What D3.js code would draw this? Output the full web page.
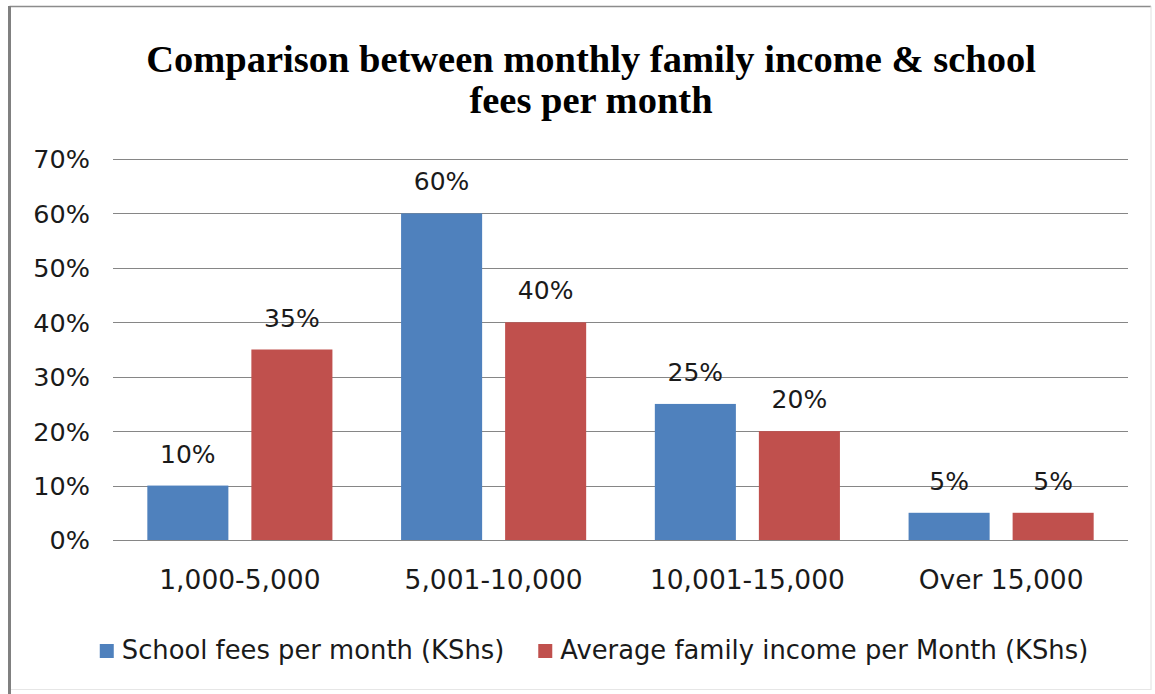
<!DOCTYPE html>
<html>
<head>
<meta charset="utf-8">
<script src="https://cdn.jsdelivr.net/npm/d3@7"></script>
<style>
  html, body { margin: 0; padding: 0; background: #ffffff; }
  svg { display: block; }
</style>
</head>
<body>
<svg id="chart" width="1155" height="694"></svg>
<script>
// ---- data ----
const categories = ["1,000-5,000", "5,001-10,000", "10,001-15,000", "Over 15,000"];
const seriesNames = ["School fees per month (KShs)", "Average family income per Month (KShs)"];
const schoolFees = [0.10, 0.60, 0.25, 0.05];
const familyIncome = [0.35, 0.40, 0.20, 0.05];
const yTicks = [0, 0.1, 0.2, 0.3, 0.4, 0.5, 0.6, 0.7];
const titleLines = ["Comparison between monthly family income & school", "fees per month"];
const colors = ["#4F81BD", "#C0504D"];

const seriesValues = [schoolFees, familyIncome];

(function () {
const svg = d3.select("#chart");
const W = 1155, H = 694;

// outer frame
svg.append("rect").attr("x", 0).attr("y", 0).attr("width", W).attr("height", H).attr("fill", "#fff");
svg.append("line").attr("x1", 9.5).attr("x2", 1151).attr("y1", 6.5).attr("y2", 6.5).attr("stroke", "#8c8c8c").attr("stroke-width", 1.5);
svg.append("line").attr("x1", 1151).attr("x2", 1151).attr("y1", 6).attr("y2", 690).attr("stroke", "#e0e0e0").attr("stroke-width", 1);
svg.append("line").attr("x1", 9.5).attr("x2", 1151).attr("y1", 689.5).attr("y2", 689.5).attr("stroke", "#e6e6e6").attr("stroke-width", 1);
svg.append("line").attr("x1", 9.5).attr("x2", 9.5).attr("y1", 6).attr("y2", 694).attr("stroke", "#808080").attr("stroke-width", 3);

const pLeft = 113, pRight = 1128, pTop = 159, pBottom = 540;

const y = d3.scaleLinear().domain([0, 0.7]).range([pBottom, pTop]);
const x0 = d3.scaleBand().domain(categories).range([pLeft, pRight]).padding(0);
const x1 = d3.scaleBand().domain([0, 1]).range([0, x0.bandwidth()]).paddingInner(0.221).paddingOuter(0.33);

const labelFont = "'DejaVu Sans', sans-serif";
const textColor = "#1a1a1a";

// gridlines
svg.append("g")
  .selectAll("line")
  .data(yTicks)
  .join("line")
  .attr("x1", pLeft).attr("x2", pRight)
  .attr("y1", d => Math.round(y(d)) + 0.5).attr("y2", d => Math.round(y(d)) + 0.5)
  .attr("stroke", "#868686").attr("stroke-width", 1);

// y axis labels
const yAxis = d3.axisLeft(y).tickValues(yTicks).tickFormat(d3.format(".0%")).tickSize(0).tickPadding(0);
const yG = svg.append("g").attr("transform", `translate(90,0)`).call(yAxis);
yG.select(".domain").remove();
yG.selectAll("text")
  .attr("font-family", labelFont).attr("font-size", 25.5).attr("fill", textColor).attr("dy", "0.35em");

// bars
const groups = svg.append("g").selectAll("g")
  .data(categories)
  .join("g")
  .attr("transform", d => `translate(${x0(d)},0)`);

groups.selectAll("rect")
  .data((d, i) => seriesValues.map((s, k) => ({k, v: s[i]})))
  .join("rect")
  .attr("x", d => x1(d.k))
  .attr("width", x1.bandwidth())
  .attr("y", d => y(d.v))
  .attr("height", d => y(0) - y(d.v))
  .attr("fill", d => colors[d.k]);

// data labels
groups.selectAll("text.val")
  .data((d, i) => seriesValues.map((s, k) => ({k, v: s[i]})))
  .join("text")
  .attr("class", "val")
  .attr("x", d => x1(d.k) + x1.bandwidth() / 2)
  .attr("y", d => y(d.v) - 23)
  .attr("text-anchor", "middle")
  .attr("font-family", labelFont).attr("font-size", 25).attr("fill", textColor)
  .text(d => d3.format(".0%")(d.v));

// x axis labels
const xAxis = d3.axisBottom(x0).tickSize(0).tickPadding(0);
const xG = svg.append("g").attr("transform", `translate(0,${pBottom})`).call(xAxis);
xG.select(".domain").remove();
xG.selectAll("text")
  .attr("font-family", labelFont).attr("font-size", 26.5).attr("fill", textColor)
  .attr("dy", null).attr("y", 49);

// title
svg.append("g").selectAll("text")
  .data(titleLines)
  .join("text")
  .attr("x", 591)
  .attr("y", (d, i) => 72 + i * 41)
  .attr("text-anchor", "middle")
  .attr("font-family", "'Liberation Serif', 'Times New Roman', serif")
  .attr("font-weight", "bold")
  .attr("font-size", 38.5)
  .attr("fill", "#000")
  .text(d => d);

// legend
const legend = svg.append("g");
const legendY = 659;
const sq = 14, sqGap = 8, itemGap = 34;
const items = legend.selectAll("g").data(seriesNames).join("g");
items.append("rect").attr("width", sq).attr("height", sq).attr("y", legendY - 15)
  .attr("fill", (d, i) => colors[i]);
items.append("text").attr("x", sq + sqGap).attr("y", legendY)
  .attr("font-family", labelFont).attr("font-size", 25.8).attr("fill", textColor)
  .text(d => d);
const widths = [];
items.each(function() { widths.push(this.getBBox().width); });
const total = d3.sum(widths) + itemGap * (widths.length - 1);
let cx = 594 - total / 2;
items.attr("transform", (d, i) => {
  const t = `translate(${cx},0)`;
  cx += widths[i] + itemGap;
  return t;
});
})();
</script>
</body>
</html>
